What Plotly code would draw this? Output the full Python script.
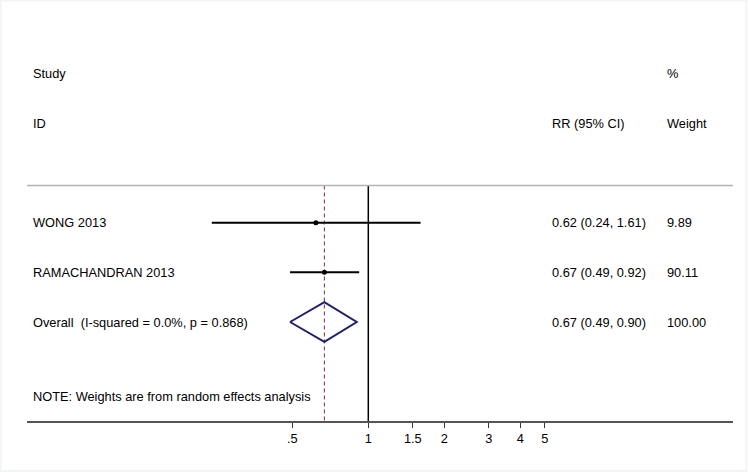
import plotly.graph_objects as go

# Study data (risk ratios)
studies = ["WONG 2013", "RAMACHANDRAN 2013"]
rr = [0.62, 0.67]
rr_lo = [0.24, 0.49]
rr_hi = [1.61, 0.92]
rr_text = ["0.62 (0.24, 1.61)", "0.67 (0.49, 0.92)"]
weights = ["9.89", "90.11"]

# Pooled estimate
overall_label = "Overall  (I-squared = 0.0%, p = 0.868)"
overall_rr = 0.67
overall_lo = 0.49
overall_hi = 0.90
overall_text = "0.67 (0.49, 0.90)"
overall_weight = "100.00"

note = "NOTE: Weights are from random effects analysis"

tickvals = [0.5, 1, 1.5, 2, 3, 4, 5]
ticktext = [".5", "1", "1.5", "2", "3", "4", "5"]

rows = [1, 2]
overall_row = 3

FONT = "Liberation Sans, Arial, sans-serif"
FS = 12.8

fig = go.Figure()

# line of no effect
fig.add_trace(go.Scatter(x=[1, 1], y=[0.25, 5.1], mode="lines",
                         line=dict(color="black", width=1.5), hoverinfo="skip"))

# dashed line at pooled estimate
fig.add_trace(go.Scatter(x=[overall_rr, overall_rr], y=[0.25, 5.1], mode="lines",
                         line=dict(color="#7d2b3c", width=1, dash="4px,3px"), hoverinfo="skip"))

# confidence intervals
ci_x, ci_y = [], []
for lo, hi, r in zip(rr_lo, rr_hi, rows):
    ci_x += [lo, hi, None]
    ci_y += [r, r, None]
fig.add_trace(go.Scatter(x=ci_x, y=ci_y, mode="lines",
                         line=dict(color="black", width=2), hoverinfo="skip"))

# point estimates
fig.add_trace(go.Scatter(x=rr, y=rows, mode="markers",
                         marker=dict(color="black", size=5), hoverinfo="skip"))

# diamond for overall
fig.add_trace(go.Scatter(
    x=[overall_lo, overall_rr, overall_hi, overall_rr, overall_lo],
    y=[overall_row, overall_row - 0.4, overall_row, overall_row + 0.4, overall_row],
    mode="lines", line=dict(color="#1f1f6e", width=2), hoverinfo="skip"))

ann = []
def txt(x, y, s):
    ann.append(dict(x=x, y=y, xref="paper", yref="y", text=s, showarrow=False,
                    xanchor="left", yanchor="middle",
                    font=dict(family=FONT, size=FS, color="black")))

txt(31 / 750, -2, "Study")
txt(31 / 750, -1, "ID")
txt(550 / 750, -1, "RR (95% CI)")
txt(665 / 750, -2, "%")
txt(665 / 750, -1, "Weight")
for s, t, w, r in zip(studies, rr_text, weights, rows):
    txt(31 / 750, r, s)
    txt(550 / 750, r, t)
    txt(665 / 750, r, w)
txt(31 / 750, overall_row, overall_label)
txt(550 / 750, overall_row, overall_text)
txt(665 / 750, overall_row, overall_weight)
txt(31 / 750, 4.5, note)

shapes = [
    dict(type="line", xref="paper", yref="y", x0=27 / 750, x1=733 / 750, y0=0.25, y1=0.25,
         line=dict(color="#b4b4b4", width=1.5)),
    dict(type="rect", xref="paper", yref="paper", x0=0.001, x1=0.995, y0=-50 / 421, y1=0.999,
         line=dict(color="#f1f5f5", width=2)),
]

fig.update_layout(
    width=750, height=472,
    margin=dict(l=0, r=0, t=0, b=51),
    paper_bgcolor="white", plot_bgcolor="white",
    showlegend=False,
    annotations=ann, shapes=shapes,
    xaxis=dict(type="log", domain=[27 / 750, 733 / 750], range=[-1.3512, 1.4438],
               tickvals=tickvals, ticktext=ticktext, showgrid=False, zeroline=False,
               showline=True, linecolor="#555555", linewidth=1.5,
               ticks="outside", ticklen=5, tickcolor="#333333",
               tickfont=dict(family=FONT, size=FS, color="black")),
    yaxis=dict(range=[4.994, -3.4854], visible=False, showgrid=False, zeroline=False),
)

# drop the default page margin so the figure sits at the window's corner
fig.write_html("out.html", config={"displayModeBar": False},
               post_script="document.body.style.margin='0px';document.body.style.overflow='hidden';")
